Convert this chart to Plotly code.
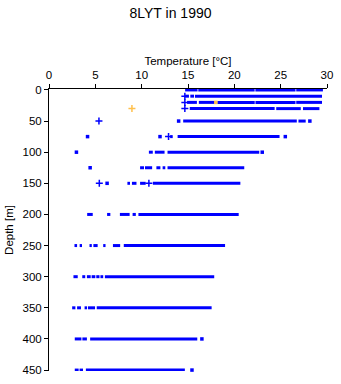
import plotly.graph_objects as go

# Standard depth levels [m]
depths = [0, 10, 20, 30, 50, 75, 100, 125, 150, 200, 250, 300, 350, 400, 450]

# Temperature ranges [°C] densely covered by observations at each depth
segments = [
    [(14.69, 16.03), (16.11, 22.19), (22.27, 26.60), (26.68, 29.56)],
    [(14.69, 15.10), (15.25, 15.65), (15.75, 29.46)],
    [(14.90, 15.96), (16.17, 17.83), (18.18, 22.20), (22.28, 26.60), (26.68, 29.46)],
    [(15.19, 24.35), (24.52, 27.17), (27.41, 29.18)],
    [(14.48, 26.74), (26.92, 27.70)],
    [(13.07, 13.35), (13.88, 24.88)],
    [(10.78, 11.20), (11.42, 12.47), (12.79, 22.69)],
    [(9.83, 10.25), (10.36, 11.13), (11.59, 12.02), (12.26, 12.55), (12.79, 21.07)],
    [(8.46, 8.74), (8.95, 9.44), (9.83, 10.43), (11.21, 20.65)],
    [(4.12, 4.72), (6.27, 6.62), (7.65, 8.70), (9.02, 9.37), (9.65, 20.47)],
    [(2.75, 3.03), (3.31, 3.56), (4.37, 4.62), (4.79, 5.25), (5.85, 6.10), (6.90, 7.68), (8.07, 19.00)],
    [(2.64, 3.10), (3.59, 3.91), (4.09, 4.50), (4.60, 5.00), (5.10, 5.45), (5.55, 5.85), (6.03, 17.83)],
    [(2.50, 2.85), (3.03, 3.45), (3.84, 4.10), (4.20, 4.97), (5.15, 17.55)],
    [(2.78, 3.50), (3.60, 4.09), (4.44, 16.00)],
    [(2.78, 3.20), (3.30, 3.67), (3.98, 14.66)],
]

# Isolated observations (temperature, depth)
cross_temp = [14.66, 14.66, 14.66, 5.39, 12.90, 5.43, 10.78]
cross_depth = [10, 20, 30, 50, 75, 150, 150]
dot_temp = [13.99, 28.15, 4.16, 11.98, 25.50, 2.96, 23.01, 4.44, 6.27, 16.50, 15.43]
dot_depth = [50, 50, 75, 75, 75, 100, 100, 125, 150, 400, 450]

# Flagged observations (orange)
flag_temp = [18.0, 8.95]
flag_depth = [20, 30]
flag_symbol = ["square", "cross-thin-open"]

BLUE = "#0000FF"
ORANGE = "#FFA500"
FONT = "Liberation Sans, Arial, sans-serif"

xs, ys = [], []
for d, segs in zip(depths, segments):
    for t0, t1 in segs:
        xs += [t0, t1, None]
        ys += [d, d, None]

fig = go.Figure()
fig.add_trace(go.Scatter(x=xs, y=ys, mode="lines",
                         line=dict(color=BLUE, width=3), hoverinfo="skip"))
fig.add_trace(go.Scatter(x=cross_temp, y=cross_depth, mode="markers", cliponaxis=False,
                         marker=dict(symbol="cross-thin-open", size=5, color=BLUE,
                                     line=dict(color=BLUE, width=1.5))))
fig.add_trace(go.Scatter(x=dot_temp, y=dot_depth, mode="markers", cliponaxis=False,
                         marker=dict(symbol="square", size=3.5, color=BLUE,
                                     line=dict(width=0))))
fig.add_trace(go.Scatter(x=flag_temp, y=flag_depth, mode="markers", cliponaxis=False,
                         marker=dict(symbol=flag_symbol, size=[3.5, 5], color=ORANGE,
                                     line=dict(color=ORANGE, width=[0, 1.5]))))

fig.update_layout(
    width=341, height=384,
    margin=dict(l=48, r=10, t=89, b=8),
    paper_bgcolor="white", plot_bgcolor="white",
    showlegend=False,
    font=dict(family=FONT, size=11, color="black"),
    title=dict(text="8LYT in 1990", x=0.5, xanchor="center", y=0.965, yanchor="middle",
               font=dict(family=FONT, size=14, color="black")),
    xaxis=dict(side="top", range=[0, 30], tickvals=[0, 5, 10, 15, 20, 25, 30],
               showgrid=False, zeroline=False, showline=True, linecolor="black",
               linewidth=1, ticks="outside", ticklen=4, tickcolor="black",
               tickfont=dict(size=11.5),
               title=dict(text="Temperature [°C]", standoff=1,
                          font=dict(family=FONT, size=11.5))),
    yaxis=dict(range=[451.5, -1.5], tickvals=[0, 50, 100, 150, 200, 250, 300, 350, 400, 450],
               showgrid=False, zeroline=False, showline=True, linecolor="black",
               linewidth=1, ticks="outside", ticklen=4, tickcolor="black",
               tickfont=dict(size=11.5),
               title=dict(text="Depth [m]", standoff=6,
                          font=dict(family=FONT, size=11.5))),
)

fig.write_html("out.html")
